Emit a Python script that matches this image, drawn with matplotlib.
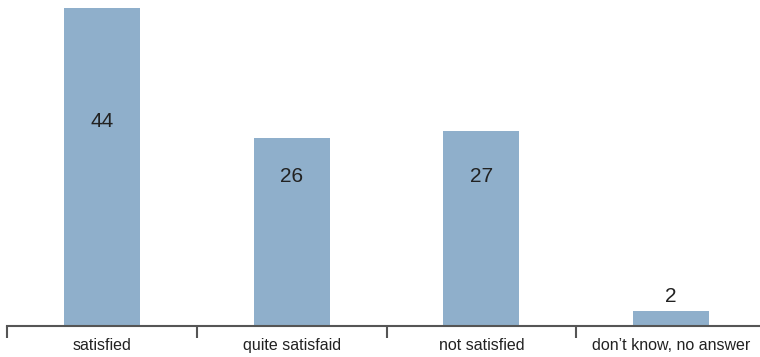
import numpy as np
import matplotlib
matplotlib.use('Agg')
import matplotlib.pyplot as plt

categories = ['satisfied', 'quite satisfaid', 'not satisfied', 'don\u2019t know, no answer']
values = [44, 26, 27, 2]

# where each value label sits (data units); small bars get theirs above
labelY = [28.3, 20.7, 20.7, 3.95]

barColor = '#8fafcb'
axisColor = '#555555'
textColor = '#222222'

plt.rcParams['font.family'] = ['Liberation Sans', 'DejaVu Sans']

fig = plt.figure(figsize=(7.6, 3.57), dpi=100)
ax = fig.add_axes([7.0/760, 31.5/357, 759.0/760, 325.5/357])

x = np.arange(len(categories))
ax.bar(x, values, width=0.4, color=barColor, zorder=2)

for i in range(len(values)):
  ax.text(x[i], labelY[i], str(values[i]), ha='center', va='center',
          fontsize=15, color=textColor)

ax.set_xlim(-0.5, len(categories) - 0.5)
ax.set_ylim(0, 45.1)

for side in ['top', 'right', 'left']:
  ax.spines[side].set_visible(False)
ax.spines['bottom'].set_color(axisColor)
ax.spines['bottom'].set_linewidth(1.5)

# boundary ticks between categories, labels centred under each bar
ax.set_xticks(np.arange(-0.5, len(categories)), minor=False)
ax.set_xticklabels([])
ax.tick_params(axis='x', which='major', direction='out', length=8.5,
               width=1.5, color=axisColor)
ax.set_xticks(x, minor=True)
ax.set_xticklabels(categories, minor=True)
ax.tick_params(axis='x', which='minor', length=0, pad=9, labelsize=11.5,
               labelcolor=textColor)
ax.set_yticks([])

fig.savefig('out.png', dpi=100)
